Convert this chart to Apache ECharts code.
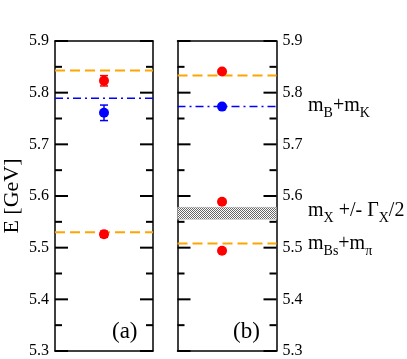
<!DOCTYPE html>
<html>
<head>
<meta charset="utf-8">
<script src="https://cdn.jsdelivr.net/npm/echarts@6/dist/echarts.min.js"></script>
<style>
html, body { margin: 0; padding: 0; background: #fff; }
#chart { width: 407px; height: 359px; }
</style>
</head>
<body>
<div id="chart"></div>
<script>
// axis
var yMin = 5.3, yMax = 5.9, yStep = 0.1, yMinorStep = 0.05;

// panel (a)
var xA = 0.5;
var redA = [5.823, 5.526];
var redErrA = [0.010, 0.006];
var blueA = [5.761];
var blueErrA = [0.015];
var orangeLinesA = [5.843, 5.530];
var blueLinesA = [5.789];

// panel (b)
var xB = 0.45;
var redB = [5.841, 5.589, 5.494];
var blueB = [5.773];
var orangeLinesB = [5.833, 5.508];
var blueLinesB = [5.773];
var bandB = [5.555, 5.578];

var serif = 'Liberation Serif';
var ORANGE = '#ffa500', BLUE = '#0000ff', RED = '#ff0000';

var chartDom = document.getElementById('chart');
var myChart = echarts.init(chartDom);

// dotted fill for the width band
var pat = document.createElement('canvas');
pat.width = 2; pat.height = 2;
var pctx = pat.getContext('2d');
pctx.fillStyle = '#fff';
pctx.fillRect(0, 0, 2, 2);
pctx.fillStyle = '#666';
pctx.fillRect(0, 0, 1, 1);
pctx.fillRect(1, 1, 1, 1);

// tick positions: [value, length]
var tickVals = [];
for (var k = 0; k <= Math.round((yMax - yMin) / yMinorStep); k++) {
  tickVals.push([+(yMin + k * yMinorStep).toFixed(2), k % 2 === 0 ? 13 : 7]);
}

function yAxisDef(grid, pos, showLabel, name) {
  return {
    type: 'value', gridIndex: grid, position: pos,
    min: yMin, max: yMax, interval: yStep,
    name: name || '', nameLocation: 'middle', nameGap: 32,
    nameTextStyle: { fontFamily: serif, fontSize: 22, color: '#000' },
    axisLine: { show: true, onZero: false, lineStyle: { color: '#000', width: 1.5 } },
    axisTick: { show: false },
    splitLine: { show: false },
    axisLabel: {
      show: showLabel, margin: 6, fontFamily: serif, fontSize: 16, color: '#000',
      formatter: function (v) { return v.toFixed(1); }
    }
  };
}

function xAxisDef(grid, pos) {
  return {
    type: 'value', gridIndex: grid, position: pos, min: 0, max: 1,
    axisLine: { show: true, onZero: false, lineStyle: { color: '#000', width: 1.5 } },
    axisTick: { show: false }, axisLabel: { show: false }, splitLine: { show: false }
  };
}

function hline(xi, yi, y, color, dash, width) {
  return {
    type: 'line', xAxisIndex: xi, yAxisIndex: yi, symbol: 'none', silent: true,
    data: [[0, y], [1, y]],
    lineStyle: { color: color, type: dash, width: width }
  };
}

function dots(xi, yi, x, ys, color) {
  return {
    type: 'scatter', xAxisIndex: xi, yAxisIndex: yi, symbolSize: 10, z: 4,
    itemStyle: { color: color, opacity: 1 },
    data: ys.map(function (y) { return [x, y]; })
  };
}

function errBars(xi, yi, x, ys, errs, color) {
  return {
    type: 'custom', xAxisIndex: xi, yAxisIndex: yi, z: 3,
    data: ys.map(function (y, i) { return [x, y, errs[i]]; }),
    renderItem: function (params, api) {
      var xv = api.value(0), yv = api.value(1), e = api.value(2);
      var hi = api.coord([xv, yv + e]), lo = api.coord([xv, yv - e]);
      var w = 4, st = { stroke: color, lineWidth: 1.5 };
      return {
        type: 'group', children: [
          { type: 'line', shape: { x1: hi[0], y1: hi[1], x2: lo[0], y2: lo[1] }, style: st },
          { type: 'line', shape: { x1: hi[0] - w, y1: hi[1], x2: hi[0] + w, y2: hi[1] }, style: st },
          { type: 'line', shape: { x1: lo[0] - w, y1: lo[1], x2: lo[0] + w, y2: lo[1] }, style: st }
        ]
      };
    }
  };
}

function rich(color) {
  return {
    m: { fontFamily: serif, fontSize: 20, color: color, lineHeight: 28 },
    s: { fontFamily: serif, fontSize: 14, color: color, lineHeight: 14, verticalAlign: 'bottom' }
  };
}

var dashOrange = [10, 5];
var dashBlue = [8, 4, 2, 4];

var series = [];
orangeLinesA.forEach(function (y) { series.push(hline(0, 0, y, ORANGE, dashOrange, 2)); });
blueLinesA.forEach(function (y) { series.push(hline(0, 0, y, BLUE, dashBlue, 1.5)); });
series.push(errBars(0, 0, xA, redA, redErrA, RED));
series.push(errBars(0, 0, xA, blueA, blueErrA, BLUE));
series.push(dots(0, 0, xA, redA, RED));
series.push(dots(0, 0, xA, blueA, BLUE));

var bandSeries = hline(2, 2, bandB[0], 'rgba(0,0,0,0)', 'solid', 0);
bandSeries.markArea = {
  silent: true,
  itemStyle: { color: { image: pat, repeat: 'repeat' }, borderColor: '#aaa', borderWidth: 0.5 },
  data: [[{ yAxis: bandB[1] }, { yAxis: bandB[0] }]]
};
series.push(bandSeries);
orangeLinesB.forEach(function (y) { series.push(hline(2, 2, y, ORANGE, dashOrange, 2)); });
blueLinesB.forEach(function (y) { series.push(hline(2, 2, y, BLUE, dashBlue, 1.5)); });
series.push(dots(2, 2, xB, redB, RED));
series.push(dots(2, 2, xB, blueB, BLUE));

var texts = [
  { type: 'text', left: 112, top: 320, style: { text: '(a)', fontFamily: serif, fontSize: 23, fill: '#000' } },
  { type: 'text', left: 233, top: 320, style: { text: '(b)', fontFamily: serif, fontSize: 23, fill: '#000' } },
  { type: 'text', left: 308, top: 96, style: { text: '{m|m}{s|B}{m|+m}{s|K}', rich: rich(BLUE) } },
  { type: 'text', left: 308, top: 201, style: { text: '{m|m}{s|X}{m| +/- \u0393}{s|X}{m|/2}', rich: rich('#000') } },
  { type: 'text', left: 308, top: 234, style: { text: '{m|m}{s|Bs}{m|+m}{s|\u03c0}', rich: rich(ORANGE) } }
];

var option = {
  animation: false,
  backgroundColor: '#fff',
  grid: [
    { left: 53, top: 41, width: 100, height: 311 },
    { left: 177.5, top: 41, width: 99, height: 311 }
  ],
  xAxis: [
    xAxisDef(0, 'bottom'), xAxisDef(0, 'top'),
    xAxisDef(1, 'bottom'), xAxisDef(1, 'top')
  ],
  yAxis: [
    yAxisDef(0, 'left', true, 'E [GeV]'),
    yAxisDef(0, 'right', false),
    yAxisDef(1, 'left', false),
    yAxisDef(1, 'right', true)
  ],
  graphic: texts,
  series: series
};

option && myChart.setOption(option);

// inner ticks on both sides of each panel, placed through the axes' own scale
var tickLines = [];
[[0, 0], [2, 2]].forEach(function (ax) {
  tickVals.forEach(function (t) {
    var l = myChart.convertToPixel({ xAxisIndex: ax[0], yAxisIndex: ax[1] }, [0, t[0]]);
    var r = myChart.convertToPixel({ xAxisIndex: ax[0], yAxisIndex: ax[1] }, [1, t[0]]);
    var st = { stroke: '#000', lineWidth: 2 };
    tickLines.push({ type: 'line', z: 100, silent: true, shape: { x1: l[0], y1: l[1], x2: l[0] + t[1], y2: l[1] }, style: st });
    tickLines.push({ type: 'line', z: 100, silent: true, shape: { x1: r[0] - t[1], y1: r[1], x2: r[0], y2: r[1] }, style: st });
  });
});
myChart.setOption({ graphic: texts.concat(tickLines) });
</script>
</body>
</html>
